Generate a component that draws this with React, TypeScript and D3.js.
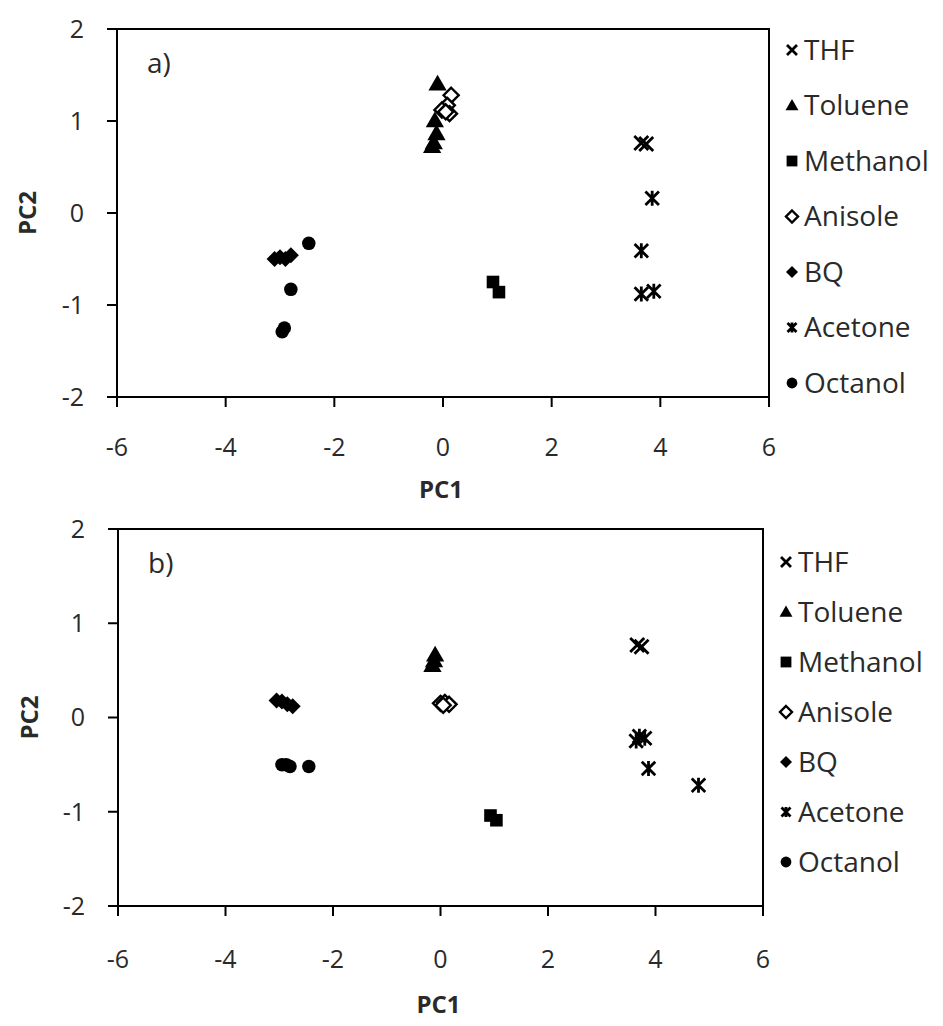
import React from "react";
import * as d3 from "d3";

// ---- data (PC1, PC2) ----
const seriesNames = ["THF", "Toluene", "Methanol", "Anisole", "BQ", "Acetone", "Octanol"];
const xTicks = [-6, -4, -2, 0, 2, 4, 6];
const yTicks = [-2, -1, 0, 1, 2];

const thfA = [[3.65, 0.76], [3.74, 0.75]];
const tolueneA = [[-0.1, 1.4], [-0.15, 1.0], [-0.12, 0.86], [-0.17, 0.76], [-0.2, 0.72]];
const methanolA = [[0.92, -0.75], [1.03, -0.86]];
const anisoleA = [[0.15, 1.28], [0.08, 1.17], [0.12, 1.08], [-0.02, 1.12], [0.05, 1.1]];
const bqA = [[-3.1, -0.5], [-3.0, -0.48], [-2.9, -0.5], [-2.8, -0.46]];
const acetoneA = [[3.85, 0.16], [3.65, -0.41], [3.65, -0.88], [3.88, -0.85]];
const octanolA = [[-2.47, -0.33], [-2.8, -0.83], [-2.92, -1.25], [-2.96, -1.29]];

const thfB = [[3.66, 0.77], [3.74, 0.75]];
const tolueneB = [[-0.1, 0.66], [-0.12, 0.6], [-0.15, 0.55]];
const methanolB = [[0.93, -1.04], [1.04, -1.09]];
const anisoleB = [[0.0, 0.15], [0.08, 0.16], [0.16, 0.14], [0.05, 0.13]];
const bqB = [[-3.05, 0.18], [-2.95, 0.17], [-2.85, 0.14], [-2.75, 0.12]];
const acetoneB = [[3.64, -0.25], [3.7, -0.2], [3.8, -0.22], [3.87, -0.54], [4.8, -0.72]];
const octanolB = [[-2.95, -0.5], [-2.87, -0.5], [-2.8, -0.52], [-2.45, -0.52]];

const panelAData = [thfA, tolueneA, methanolA, anisoleA, bqA, acetoneA, octanolA];
const panelBData = [thfB, tolueneB, methanolB, anisoleB, bqB, acetoneB, octanolB];

const FONT = "'Open Sans', 'DejaVu Sans', sans-serif";
const TXT = "#2a2a2a";

function Marker({ kind, x, y, s }: { kind: number; x: number; y: number; s: number }) {
  const h = s / 2;
  switch (kind) {
    case 0: // THF x
      return (
        <path d={`M${x - h},${y - h}L${x + h},${y + h}M${x - h},${y + h}L${x + h},${y - h}`}
          stroke="#000" strokeWidth={2.8} fill="none" />
      );
    case 1: {
      const p = d3.symbol(d3.symbolTriangle, s * s * 0.5)();
      return <path d={p as string} transform={`translate(${x},${y + 1})`} fill="#000" />;
    }
    case 2:
      return <rect x={x - h * 0.9} y={y - h * 0.9} width={s * 0.9} height={s * 0.9} fill="#000" />;
    case 3:
      return (
        <path d={`M${x},${y - h}L${x + h},${y}L${x},${y + h}L${x - h},${y}Z`}
          fill="#fff" stroke="#000" strokeWidth={2.4} />
      );
    case 4:
      return <path d={`M${x},${y - h}L${x + h},${y}L${x},${y + h}L${x - h},${y}Z`} fill="#000" />;
    case 5: {
      const k = h * 0.9;
      return (
        <path d={`M${x - k},${y - k}L${x + k},${y + k}M${x - k},${y + k}L${x + k},${y - k}M${x},${y - h}L${x},${y + h}`}
          stroke="#000" strokeWidth={2.8} fill="none" />
      );
    }
    default:
      return <circle cx={x} cy={y} r={h * 0.9} fill="#000" />;
  }
}

type PanelProps = {
  data: number[][][];
  left: number; right: number; top: number; bottom: number;
  tag: string;
  tickLabelY: number; pc1Y: number; pc2X: number;
  legendX: number; legendY0: number; legendStep: number;
};

function Panel(p: PanelProps) {
  const x = d3.scaleLinear().domain([-6, 6]).range([p.left, p.right]);
  const y = d3.scaleLinear().domain([-2, 2]).range([p.bottom, p.top]);
  const sizes = [14, 17, 14, 15, 16, 15, 15];
  return (
    <g>
      <rect x={p.left} y={p.top} width={p.right - p.left} height={p.bottom - p.top}
        fill="none" stroke="#000" strokeWidth={2} />
      {yTicks.map((t) => (
        <g key={"y" + t}>
          <line x1={p.left - 10} x2={p.left} y1={y(t)} y2={y(t)} stroke="#000" strokeWidth={2} />
          <text x={p.left - 33} y={y(t)} dy="0.35em" textAnchor="end" fontSize={25}
            fontFamily={FONT} fill={TXT}>{t}</text>
        </g>
      ))}
      {xTicks.map((t) => (
        <g key={"x" + t}>
          <line x1={x(t)} x2={x(t)} y1={p.bottom} y2={p.bottom + 10} stroke="#000" strokeWidth={2} />
          <text x={x(t)} y={p.tickLabelY} dy="0.35em" textAnchor="middle" fontSize={25}
            fontFamily={FONT} fill={TXT}>{t}</text>
        </g>
      ))}
      <text x={(p.left + p.right) / 2 - 2} y={p.pc1Y} dy="0.35em" textAnchor="middle" fontSize={24}
        fontWeight="bold" fontFamily={FONT} fill={TXT}>PC1</text>
      <text transform={`translate(${p.pc2X},${(p.top + p.bottom) / 2}) rotate(-90)`} dy="0.35em"
        textAnchor="middle" fontSize={24} fontWeight="bold" fontFamily={FONT} fill={TXT}>PC2</text>
      <text x={p.left + 30} y={p.top + 34} dy="0.35em" fontSize={28} fontFamily={FONT} fill={TXT}>{p.tag}</text>
      {p.data.map((ser, si) =>
        ser.map((d, i) => (
          <Marker key={si + "-" + i} kind={si} x={x(d[0])} y={y(d[1])} s={sizes[si]} />
        ))
      )}
      {seriesNames.map((n, i) => {
        const ly = p.legendY0 + i * p.legendStep;
        return (
          <g key={n}>
            <Marker kind={i} x={p.legendX} y={ly} s={i === 0 || i === 5 ? 10 : 12} />
            <text x={p.legendX + 12} y={ly} dy="0.35em" fontSize={28} fontFamily={FONT} fill={TXT}>{n}</text>
          </g>
        );
      })}
    </g>
  );
}

export default function App() {
  return (
    <svg width={943} height={1026} style={{ position: "absolute", left: 0, top: 0, background: "#fff" }}>
      <rect width={943} height={1026} fill="#fff" />
      <Panel data={panelAData} left={117} right={769} top={29} bottom={397} tag="a)"
        tickLabelY={447} pc1Y={490} pc2X={28} legendX={792} legendY0={50} legendStep={55.5} />
      <Panel data={panelBData} left={118} right={763} top={529} bottom={906} tag="b)"
        tickLabelY={959} pc1Y={1005} pc2X={30} legendX={786} legendY0={562} legendStep={50} />
    </svg>
  );
}
